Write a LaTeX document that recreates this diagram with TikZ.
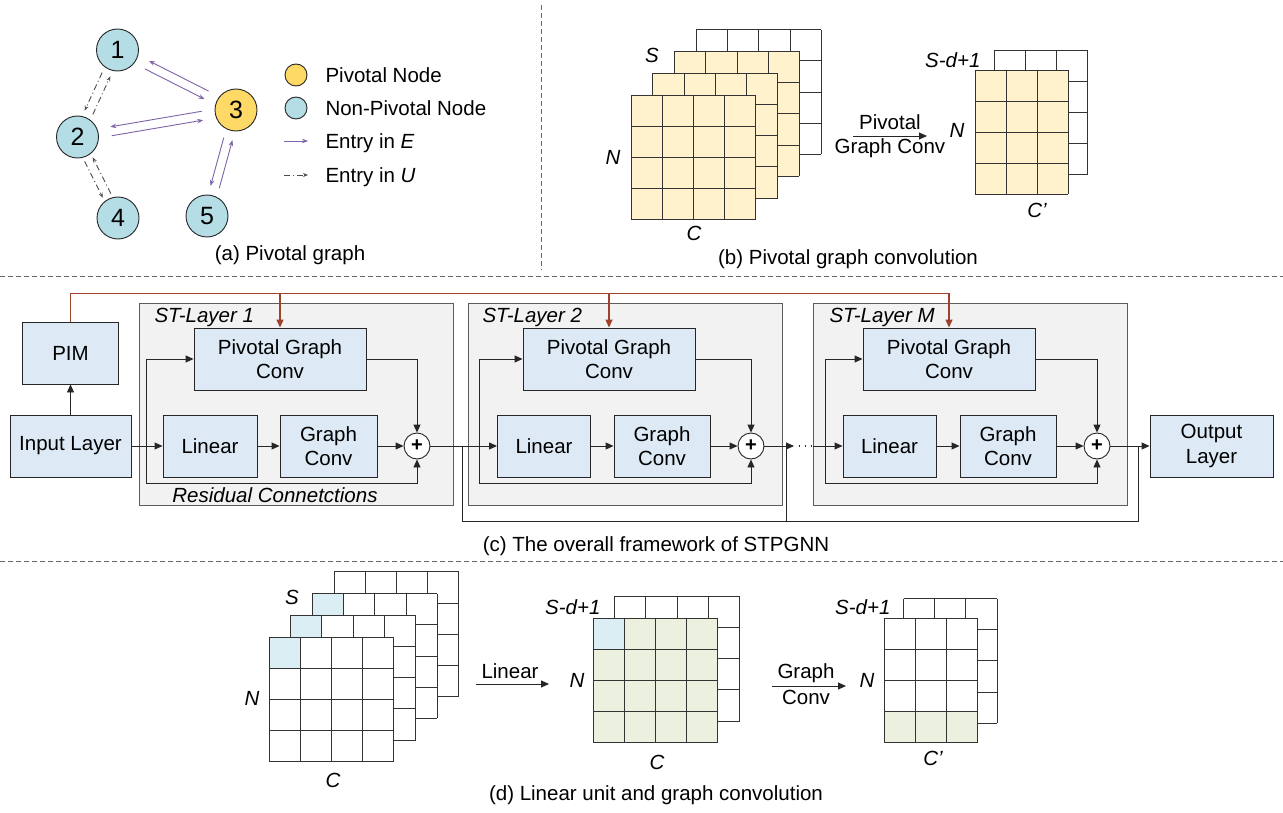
\documentclass[tikz,border=0pt]{standalone}
\usepackage{fontspec}
\setmainfont{Liberation Sans}
\usetikzlibrary{calc,arrows.meta}
\definecolor{pnode}{HTML}{FFD966}
\definecolor{npnode}{HTML}{B4DDE6}
\definecolor{purp}{HTML}{7E63A8}
\definecolor{ygrid}{HTML}{FFF2CC}
\definecolor{ggrid}{HTML}{EBF1DE}
\definecolor{bcell}{HTML}{DAEEF3}
\definecolor{blkfill}{HTML}{DDEAF6}
\definecolor{layerfill}{HTML}{F2F2F2}
\definecolor{redl}{HTML}{A0402F}
\definecolor{sepgray}{HTML}{666666}
\definecolor{lineblk}{HTML}{262626}
\definecolor{gridc}{HTML}{333333}
\definecolor{dashc}{HTML}{4D4D4D}

\tikzset{
  fs/.style={font=\fontsize{20.5}{24.5}\selectfont},
  itfs/.style={font=\fontsize{20.5}{24.5}\selectfont\itshape},
  numfs/.style={font=\fontsize{25}{28}\selectfont},
  gnode/.style={circle, draw=lineblk, line width=0.9pt, minimum size=42pt, inner sep=0pt, numfs},
  blk/.style={draw=lineblk, fill=blkfill, line width=0.9pt, align=center, inner sep=0pt, fs},
  layerbox/.style={draw=sepgray!90!black, fill=layerfill, line width=0.9pt, inner sep=0pt},
  ln/.style={draw=lineblk, line width=0.9pt},
  arr/.style={draw=lineblk, line width=0.9pt, -{Triangle[length=8pt,width=7pt]}},
  redarr/.style={draw=redl, line width=1.3pt, -{Triangle[length=8pt,width=7pt]}},
  pe/.style={draw=purp, line width=0.9pt, -{Stealth[length=6pt,width=4.5pt]}},
  ue/.style={draw=dashc, line width=0.9pt, dash pattern=on 6pt off 3pt on 1pt off 3pt, -{Stealth[length=5pt,width=4pt]}},
  gridline/.style={draw=gridc, line width=0.9pt},
  sep/.style={draw=sepgray, line width=0.9pt, dash pattern=on 5pt off 3pt},
  plusc/.style={circle, draw=lineblk, fill=white, line width=0.9pt, minimum size=26pt, inner sep=0pt, font=\fontsize{20}{22}\selectfont\bfseries},
}

\newcommand\gridlayer[7]{%
  \fill[#6] (#1,#2) rectangle ++(#3*#5,#4*#5);
  #7
  \foreach \i in {0,...,#3} {\draw[gridline] (#1+\i*#5,#2) -- ++(0,#4*#5);}
  \foreach \j in {0,...,#4} {\draw[gridline] (#1,#2+\j*#5) -- ++(#3*#5,0);}
}
\newcommand\biedge[4]{%
  \draw[#3, shorten <=#4, shorten >=#4] ($(#1)!4.5pt!-90:(#2)$) -- ($(#2)!4.5pt!90:(#1)$);
  \draw[#3, shorten <=#4, shorten >=#4] ($(#2)!4.5pt!-90:(#1)$) -- ($(#1)!4.5pt!90:(#2)$);
}

\begin{document}
\begin{tikzpicture}[x=1pt,y=-1pt]
\fill[white] (0,0) rectangle (1283,813);
\useasboundingbox (0,0) rectangle (1283,813);

% separators
\draw[sep] (541,5) -- (541,270);
\draw[sep] (0,276) -- (1283,276);
\draw[sep] (0,561) -- (1283,561);

% ---------------- (a) pivotal graph
\node[gnode, fill=npnode] (n1) at (117.5,50) {1};
\node[gnode, fill=npnode] (n2) at (77.5,137) {2};
\node[gnode, fill=pnode] (n3) at (236,110) {3};
\node[gnode, fill=npnode] (n4) at (118,218) {4};
\node[gnode, fill=npnode] (n5) at (207,216) {5};
\biedge{n1}{n3}{pe}{33pt}
\biedge{n2}{n3}{pe}{34pt}
\biedge{n3}{n5}{pe}{30pt}
\biedge{n1}{n2}{ue}{27pt}
\biedge{n2}{n4}{ue}{25pt}

\node[circle, draw=lineblk, line width=0.9pt, fill=pnode, minimum size=22pt, inner sep=0pt] (lg1) at (296,75) {};
\node[circle, draw=lineblk, line width=0.9pt, fill=npnode, minimum size=22pt, inner sep=0pt] (lg2) at (296,108) {};
\coordinate (lg3a) at (284,141); \coordinate (lg3b) at (308,141);
\coordinate (lg4a) at (284,175); \coordinate (lg4b) at (308,175);
\draw[pe] (lg3a) -- (lg3b);
\draw[ue] (lg4a) -- (lg4b);
\node[fs, anchor=west] (t1) at (322,75) {Pivotal Node};
\node[fs, anchor=west] (t2) at (322,108) {Non-Pivotal Node};
\node[fs, anchor=west] (t3) at (322,143) {Entry in \textit{E}};
\node[fs, anchor=west] (t4) at (322,177) {Entry in \textit{U}};
\node[fs] (capa) at (290,255) {(a) Pivotal graph};

% ---------------- (b) pivotal graph convolution
\gridlayer{696.4}{29.6}{4}{4}{31.2}{white}{}
\gridlayer{674.6}{51.4}{4}{4}{31.2}{ygrid}{}
\gridlayer{652.8}{73.2}{4}{4}{31.2}{ygrid}{}
\gridlayer{631}{95}{4}{4}{31.2}{ygrid}{}
\node[itfs] (bS) at (652,55) {S};
\node[itfs] (bN) at (613,157) {N};
\node[itfs] (bC) at (694,233) {C};
\coordinate (bA) at (853,136); \coordinate (bB) at (927,136);
\draw[arr] (bA) -- (bB);
\node[fs] (bl1) at (890,122) {Pivotal};
\node[fs] (bl2) at (890,148) {Graph Conv};
\gridlayer{994.5}{50.5}{3}{4}{31}{white}{}
\gridlayer{975}{70}{3}{4}{31}{ygrid}{}
\node[itfs, anchor=east] (bS2) at (984,60) {S-d+1};
\node[itfs] (bN2) at (957,130) {N};
\node[itfs] (bC2) at (1037,210) {C’};
\node[fs] (capb) at (848,259) {(b) Pivotal graph convolution};

% ---------------- (c) overall framework
\node[layerbox, minimum width=314pt, minimum height=202pt] (L1) at (296,404) {};
\node[layerbox, minimum width=314pt, minimum height=202pt] (L2) at (625,404) {};
\node[layerbox, minimum width=314pt, minimum height=202pt] (LM) at (970,404) {};
\node[itfs, anchor=west] (L1t) at (151,317) {ST-Layer 1};
\node[itfs, anchor=west] (L2t) at (479,317) {ST-Layer 2};
\node[itfs, anchor=west] (LMt) at (826,317) {ST-Layer M};
\node[itfs] (rest) at (275,495) {Residual Connetctions};

\node[blk, minimum width=96pt, minimum height=62pt] (PIM) at (70.5,353) {PIM};
\node[blk, minimum width=121pt, minimum height=62pt] (In) at (70.5,446) {Input Layer};
\node[blk, minimum width=123pt, minimum height=62pt] (Out) at (1211.5,446) {Output\\Layer};

\node[blk, minimum width=172pt, minimum height=62pt] (P1) at (280,359) {Pivotal Graph\\Conv};
\node[blk, minimum width=94pt, minimum height=62pt] (Li1) at (210,446) {Linear};
\node[blk, minimum width=97pt, minimum height=62pt] (G1) at (328.5,446) {Graph\\Conv};
\node[plusc] (S1) at (417,446) {+};

\node[blk, minimum width=172pt, minimum height=62pt] (P2) at (609,359) {Pivotal Graph\\Conv};
\node[blk, minimum width=93pt, minimum height=62pt] (Li2) at (544,446) {Linear};
\node[blk, minimum width=96pt, minimum height=62pt] (G2) at (662,446) {Graph\\Conv};
\node[plusc] (S2) at (751,446) {+};

\node[blk, minimum width=172pt, minimum height=62pt] (PM) at (949,359) {Pivotal Graph\\Conv};
\node[blk, minimum width=93pt, minimum height=62pt] (LiM) at (889.5,446) {Linear};
\node[blk, minimum width=96pt, minimum height=62pt] (GM) at (1008,446) {Graph\\Conv};
\node[plusc] (SM) at (1097,446) {+};

\draw[arr] (In.north) -- (PIM.south);
% red PIM lines
\coordinate (top) at (0,293.5);
\draw[redarr] (PIM.north) -- (PIM.north |- top) -| (PM.north);
\draw[redarr] (P1.north |- top) -- (P1.north);
\draw[redarr] (P2.north |- top) -- (P2.north);

% layer 1
\coordinate (r1) at (146,446); \coordinate (r1b) at (146,483);
\draw[arr] (In.east) -- (Li1.west);
\draw[arr] (Li1) -- (G1);
\draw[arr] (G1) -- (S1);
\draw[arr] (P1.east) -| (S1.north);
\draw[arr] (r1) |- (P1.west);
\draw[arr] (r1) -- (r1b) -| (S1.south);
% layer 2
\coordinate (r2) at (479,446); \coordinate (r2b) at (479,483);
\draw[arr] (S1.east) -- (Li2.west);
\draw[arr] (Li2) -- (G2);
\draw[arr] (G2) -- (S2);
\draw[arr] (P2.east) -| (S2.north);
\draw[arr] (r2) |- (P2.west);
\draw[arr] (r2) -- (r2b) -| (S2.south);
% layer M
\coordinate (r3) at (825,446); \coordinate (r3b) at (825,483);
\coordinate (d1) at (794,446); \coordinate (d2) at (813,446);
\draw[arr] (S2.east) -- (d1);
\draw[draw=lineblk, line width=1.6pt, dash pattern=on 1.6pt off 4.4pt] (798.5,446) -- (d2);
\draw[arr] (d2) -- (LiM.west);
\draw[arr] (LiM) -- (GM);
\draw[arr] (GM) -- (SM);
\draw[arr] (PM.east) -| (SM.north);
\draw[arr] (r3) |- (PM.west);
\draw[arr] (r3) -- (r3b) -| (SM.south);
\draw[arr] (SM.east) -- (Out.west);
% skip connections
\coordinate (j1) at (462,446); \coordinate (j2) at (786,446); \coordinate (j3) at (1138,446);
\draw[ln] (j1) -- ++(0,75) -| (j3);
\draw[ln] (j2) -- ++(0,75);

\node[fs] (capc) at (656,546) {(c) The overall framework of STPGNN};

% ---------------- (d) linear unit and graph convolution
\gridlayer{334.1}{571.9}{4}{4}{31.2}{white}{}
\gridlayer{312.4}{593.6}{4}{4}{31.2}{white}{\fill[bcell] (312.4,593.6) rectangle ++(31.2,31.2);}
\gridlayer{290.7}{615.3}{4}{4}{31.2}{white}{\fill[bcell] (290.7,615.3) rectangle ++(31.2,31.2);}
\gridlayer{269}{637}{4}{4}{31.2}{white}{\fill[bcell] (269,637) rectangle ++(31.2,31.2);}
\node[itfs] (dS) at (292,597) {S};
\node[itfs] (dN) at (252,698) {N};
\node[itfs] (dC) at (333,780) {C};
\coordinate (dA) at (476,684); \coordinate (dB) at (549,684);
\draw[arr] (dA) -- (dB);
\node[fs] (dl1) at (510,671) {Linear};

\gridlayer{614.7}{596.3}{4}{4}{31.2}{white}{}
\gridlayer{593}{618}{4}{4}{31.2}{ggrid}{\fill[bcell] (593,618) rectangle ++(31.2,31.2);}
\node[itfs, anchor=east] (dS2) at (604,607) {S-d+1};
\node[itfs] (dN2) at (577,680) {N};
\node[itfs] (dC2) at (657,762) {C};

\coordinate (dE) at (772,686); \coordinate (dF) at (846,686);
\draw[arr] (dE) -- (dF);
\node[fs] (dl2) at (806,673) {Graph};
\node[fs] (dl3) at (806,697) {Conv};

\gridlayer{903.5}{598.5}{3}{4}{31.2}{white}{}
\gridlayer{884}{618}{3}{4}{31.2}{white}{\fill[ggrid] (884,711.6) rectangle ++(93.6,31.2);}
\node[itfs, anchor=east] (dS3) at (894,607) {S-d+1};
\node[itfs] (dN3) at (867,680) {N};
\node[itfs] (dC3) at (933,758) {C’};

\node[fs] (capd) at (656,795) {(d) Linear unit and graph convolution};
\end{tikzpicture}
\end{document}
